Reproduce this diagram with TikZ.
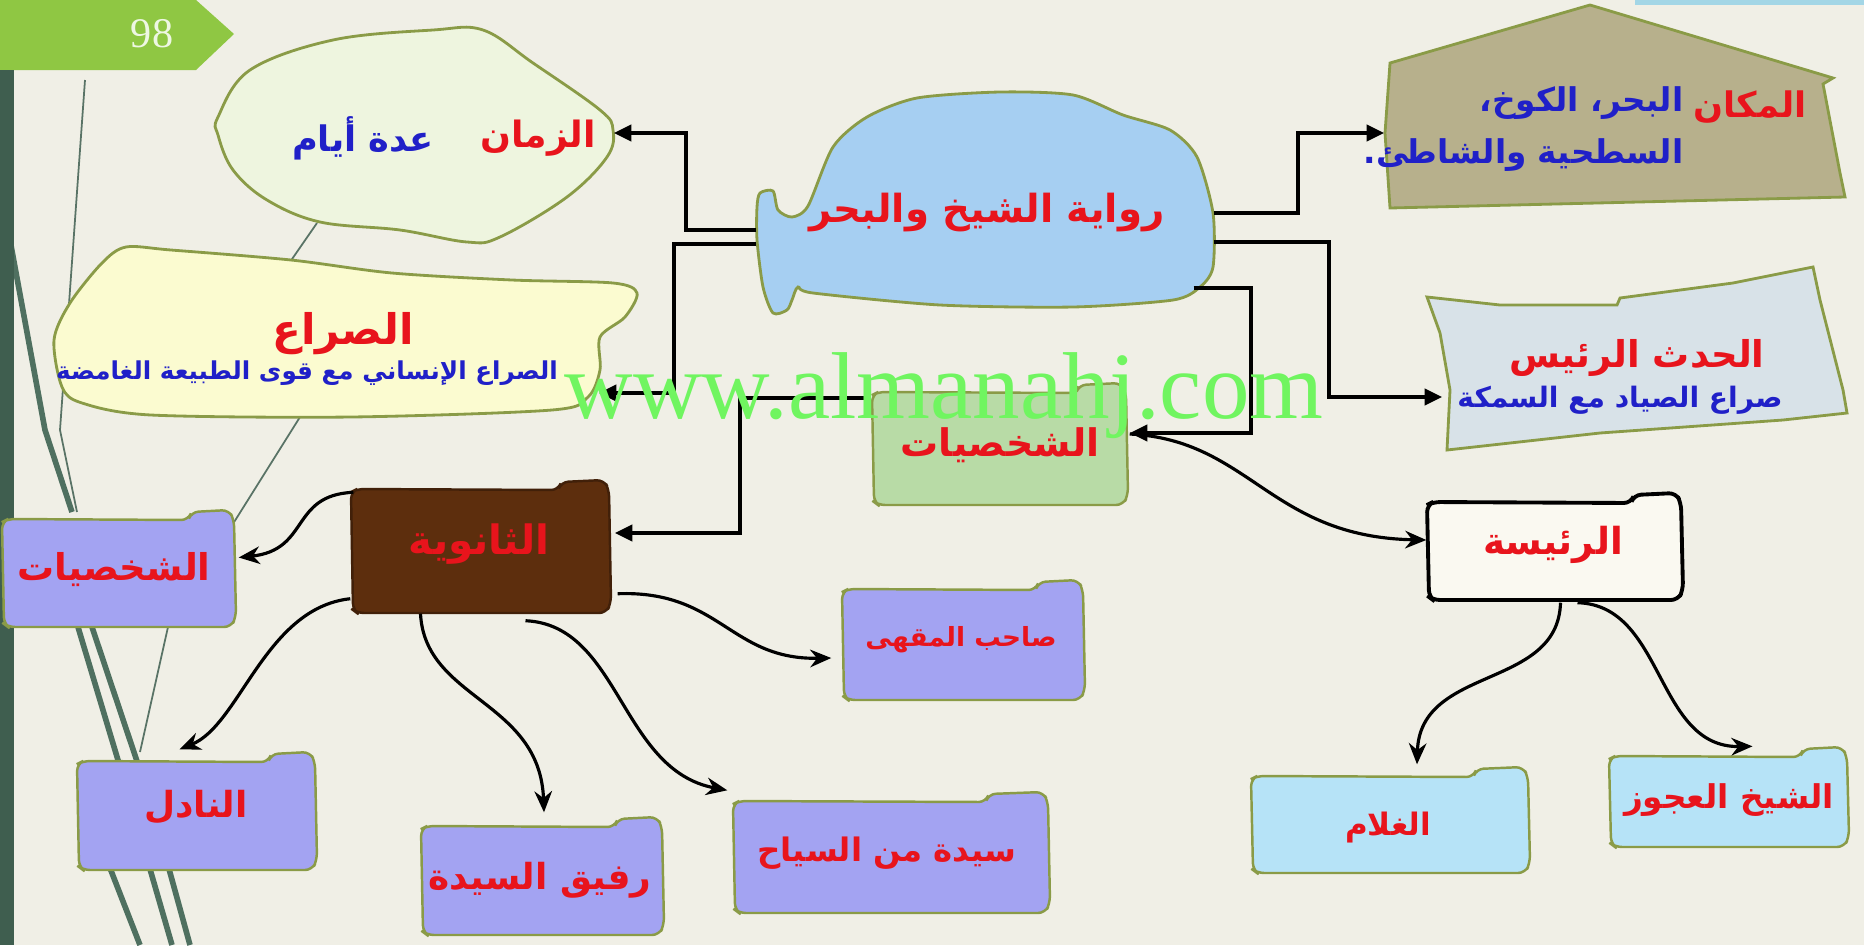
\documentclass[tikz,border=0pt]{standalone}
\usepackage{fontspec}
\usetikzlibrary{arrows.meta,calc,fit}
\TeXXeTstate=1
\newfontfamily\arabicfont[Script=Arabic,BoldFont={DejaVu Sans Bold}]{DejaVu Sans}
\newfontfamily\wmfont{Liberation Serif}
\newcommand{\arf}[1]{\arabicfont\bfseries\fontsize{#1}{#1}\selectfont}
\definecolor{bgc}{HTML}{F0EFE6}
\definecolor{tabgreen}{HTML}{8FC743}
\definecolor{barcol}{HTML}{3F5E4F}
\definecolor{topbar}{HTML}{A3D6E6}
\definecolor{lav}{HTML}{A3A3F2}
\definecolor{olive1}{HTML}{8A9B47}
\definecolor{zamanfill}{HTML}{EEF5DF}
\definecolor{saracfill}{HTML}{FBFBD0}
\definecolor{novelfill}{HTML}{A6CFF2}
\definecolor{makanfill}{HTML}{B7B08C}
\definecolor{hadathfill}{HTML}{D8E2E8}
\definecolor{shakhsfill}{HTML}{B8DBA6}
\definecolor{brownfill}{HTML}{5D2E0D}
\definecolor{raisafill}{HTML}{FAF9F1}
\definecolor{ltblue}{HTML}{B6E3F7}
\definecolor{tred}{HTML}{E8141C}
\definecolor{tblue}{HTML}{2020C8}
\definecolor{wmgreen}{HTML}{70F560}
\definecolor{decog}{HTML}{4F7060}
\newcommand{\folder}[5]{%
  \draw[#5,rounded corners=2pt] ({#1+2},{#4-3}) -- ({#1},{#2+12}) -- ({#1+6},{#2+9})
    -- ({#1+0.8*(#3-#1)},{#2+10}) -- ({#1+0.8*(#3-#1)+3},{#2+2}) -- ({#3-6},{#2})
    -- ({#3-1},{#2+10}) -- ({#3+1},{#4-10}) -- ({#3-4},{#4}) -- ({#1+6},{#4}) -- cycle;}
\tikzset{
  conn/.style={line width=1.2pt,-{Triangle[length=5pt,width=4.5pt]}},
  curv/.style={line width=0.9pt,-{Stealth[length=6pt,width=5pt]}},
  hold/.style={inner sep=0pt,draw=none},
  redt/.style={text=tred,inner sep=0pt},
  bluet/.style={text=tblue,inner sep=0pt},
  lavbox/.style={fill=lav,draw=olive1,line width=0.7pt},
  bluebox/.style={fill=ltblue,draw=olive1,line width=0.7pt},
  blob/.style={draw=olive1,line width=0.8pt},
  decothick/.style={draw=decog,line width=1.6pt},
  decothin/.style={draw=decog!80!gray,line width=0.5pt},
}
\begin{document}
\begin{tikzpicture}[x=0.01cm,y=-0.01cm]
\useasboundingbox (0,0) rectangle (1864,945);
\fill[bgc] (0,0) rectangle (1864,945);
% decorative background strokes
\draw[decothick] (10,240) -- (45,430) -- (72,512);
\draw[decothin] (85,80) -- (60,430) -- (77,512);
\draw[decothick] (78,627) -- (130,800) -- (172,945);
\draw[decothick] (92,627) -- (150,800) -- (190,945);
\draw[decothin] (317,223) -- (290,262);
\draw[decothin] (300,417) -- (231,527);
\draw[decothin] (168,627) -- (140,752);
\draw[decothick] (110,868) -- (140,945);
% page tab and side bar
\fill[tabgreen] (0,0) -- (196,0) -- (234,34) -- (196,70) -- (0,70) -- cycle;
\node[text=white!85!tabgreen,font=\wmfont\fontsize{12}{12}\selectfont] (pg) at (152,34) {98};
\fill[barcol] (0,70) rectangle (14,945);
\fill[topbar] (1635,0) rectangle (1864,5);
% holder nodes
\node[hold,fit={(218,30) (613,242)}] (zaman) {};
\node[hold,fit={(54,247) (637,417)}] (sarac) {};
\node[hold,fit={(757,92) (1213,313)}] (novel) {};
\node[hold,fit={(1385,5) (1845,208)}] (makan) {};
\node[hold,fit={(1427,267) (1847,450)}] (hadath) {};
\node[hold,fit={(872,383) (1127,505)}] (shakhs) {};
\node[hold,fit={(351,480) (610,613)}] (thanawi) {};
\node[hold,fit={(2,510) (235,627)}] (shakhsL) {};
\node[hold,fit={(842,580) (1084,700)}] (sahib) {};
\node[hold,fit={(77,752) (316,870)}] (nadil) {};
\node[hold,fit={(421,817) (663,935)}] (rafiq) {};
\node[hold,fit={(733,792) (1049,913)}] (sayyida) {};
\node[hold,fit={(1427,493) (1682,600)}] (raisa) {};
\node[hold,fit={(1251,767) (1529,873)}] (ghulam) {};
\node[hold,fit={(1609,747) (1848,847)}] (shaykh) {};
% shapes
\draw[blob,fill=zamanfill] plot[smooth cycle,tension=0.6] coordinates {(218,117) (250,70) (333,40) (433,30) (483,30) (533,63) (600,110) (613,130) (607,157) (567,197) (500,237) (467,242) (400,230) (320,222) (267,200) (233,170) (218,135)};
\draw[blob,fill=saracfill] plot[smooth cycle,tension=0.5] coordinates {(126,247) (171,250) (291,260) (392,273) (512,280) (613,283) (637,293) (625,317) (600,337) (600,370) (588,397) (552,410) (351,417) (151,415) (82,403) (62,387) (54,340) (70,303) (102,263)};
\draw[blob,fill=novelfill] plot[smooth cycle,tension=0.45] coordinates {(760,193) (773,191) (778,210) (792,217) (808,206) (833,147) (867,117) (917,98) (1000,92) (1073,95) (1123,115) (1170,130) (1197,157) (1213,213) (1213,267) (1200,287) (1173,300) (1073,307) (940,305) (813,293) (798,287) (792,300) (787,310) (773,313) (763,287) (757,240) (757,207)};
\draw[blob,fill=makanfill] (1390,63) -- (1590,5) -- (1833,78) -- (1823,84) -- (1840,173) -- (1845,197) -- (1390,208) -- (1385,133) -- cycle;
\draw[blob,fill=hadathfill] (1427,297) -- (1500,305) -- (1617,305) -- (1620,298) -- (1733,283) -- (1813,267) -- (1820,300) -- (1843,390) -- (1847,413) -- (1783,420) -- (1600,433) -- (1447,450) -- (1450,390) -- (1440,333) -- cycle;
\folder{872}{383}{1127}{505}{fill=shakhsfill,draw=olive1,line width=0.7pt}
\folder{351}{480}{610}{613}{fill=brownfill,draw=brownfill!70!black,line width=0.7pt}
\folder{2}{510}{235}{627}{lavbox}
\folder{842}{580}{1084}{700}{lavbox}
\folder{77}{752}{316}{870}{lavbox}
\folder{421}{817}{663}{935}{lavbox}
\folder{733}{792}{1049}{913}{lavbox}
\folder{1427}{493}{1682}{600}{fill=raisafill,draw=black,line width=1.1pt}
\folder{1251}{767}{1529}{873}{bluebox}
\folder{1609}{747}{1848}{847}{bluebox}
% orthogonal connectors
\draw[conn] (novel.west |- 0,230) -| (686,133) -- (zaman.east |- 0,133);
\draw[conn] (novel.west |- 0,244) -| (674,393) -- ($(sarac.east |- 0,393)+(-39,0)$);
\draw[conn] (novel.east |- 0,213) -| (1298,133) -- (makan.west |- 0,133);
\draw[conn] (novel.east |- 0,242) -| (1329,397) -- ($(hadath.west |- 0,397)+(16,0)$);
\draw[conn] ($(novel.east |- 0,288)+(-20,0)$) -| (1251,433) -- ($(shakhs.east |- 0,433)+(2,0)$);
\draw[conn] (shakhs.west |- 0,398) -| (740,533) -- ($(thanawi.east |- 0,533)+(4,0)$);
% curved connectors
\draw[curv] ($(shakhs.east |- 0,434)+(2,0)$) .. controls (1250,440) and (1270,537) .. (raisa.west |- 0,540);
\draw[curv] ($(raisa.south)+(6,2)$) .. controls (1558,690) and (1420,665) .. ($(ghulam.north)+(27,-2)$);
\draw[curv] ($(raisa.south)+(23,2)$) .. controls (1665,605) and (1655,748) .. ($(shaykh.north)+(24,0)$);
\draw[curv] ($(thanawi.north west)+(3,13)$) .. controls (290,495) and (310,550) .. ($(shakhsL.east)+(3,-11)$);
\draw[curv] ($(thanawi.south west)+(0,-15)$) .. controls (265,608) and (240,725) .. ($(nadil.north)+(-17,-2)$);
\draw[curv] ($(thanawi.south)+(-60,0)$) .. controls (425,700) and (540,700) .. ($(rafiq.north)+(2,-4)$);
\draw[curv] ($(thanawi.south)+(45,7)$) .. controls (620,625) and (620,770) .. ($(sayyida.north west)+(-5,-1)$);
\draw[curv] ($(thanawi.south east)+(7,-20)$) .. controls (720,590) and (730,660) .. ($(sahib.west)+(-10,18)$);
% texts
\node[redt,font=\arf{10.3}] (tZaman) at (538,138) {\beginR الزمان\endR};
\node[bluet,font=\arf{10}] (vZaman) at (363,138) {\beginR عدة أيام\endR};
\node[redt,font=\arf{12}] (tSarac) at (343,334) {\beginR الصراع\endR};
\node[bluet,font=\arf{7}] (vSarac) at (307,373) {\beginR الصراع الإنساني مع قوى الطبيعة الغامضة\endR};
\node[redt,font=\arf{11}] (tNovel) at (987,213) {\beginR رواية الشيخ والبحر\endR};
\node[redt,font=\arf{10}] (tMakan) at (1750,107) {\beginR المكان\endR};
\node[bluet,anchor=east,font=\arf{9.3}] (vMakan1) at (1684,103) {\beginR البحر، الكوخ،\endR};
\node[bluet,anchor=east,font=\arf{9.3}] (vMakan2) at (1684,155) {\beginR السطحية والشاطئ.\endR};
\node[redt,font=\arf{10.5}] (tHadath) at (1637,358) {\beginR الحدث الرئيس\endR};
\node[bluet,font=\arf{8}] (vHadath) at (1620,400) {\beginR صراع الصياد مع السمكة\endR};
\node[redt,font=\arf{10.8}] (tShakhs) at (1000,445) {\beginR الشخصيات\endR};
\node[redt,font=\arf{11.5}] (tThanawi) at (479,544) {\beginR الثانوية\endR};
\node[redt,font=\arf{10.5}] (tShakhsL) at (114,570) {\beginR الشخصيات\endR};
\node[redt,font=\arf{7.5}] (tSahib) at (961,640) {\beginR صاحب المقهى\endR};
\node[redt,font=\arf{10.2}] (tNadil) at (196,807) {\beginR النادل\endR};
\node[redt,font=\arf{10.2}] (tRafiq) at (540,880) {\beginR رفيق السيدة\endR};
\node[redt,font=\arf{9.2}] (tSayyida) at (887,853) {\beginR سيدة من السياح\endR};
\node[redt,font=\arf{10.6}] (tRaisa) at (1553,545) {\beginR الرئيسة\endR};
\node[redt,font=\arf{8.8}] (tGhulam) at (1388,828) {\beginR الغلام\endR};
\node[redt,font=\arf{9.3}] (tShaykh) at (1729,800) {\beginR الشيخ العجوز\endR};
% watermark
\node[anchor=base,text=wmgreen,inner sep=0pt,font=\wmfont\fontsize{27}{27}\selectfont] (wm) at (944,418) {www.almanahj.com};
\end{tikzpicture}
\end{document}
